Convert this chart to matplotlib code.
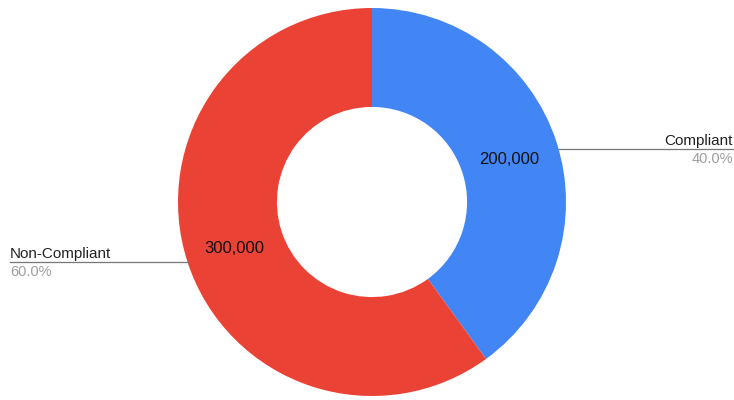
import numpy as np
import matplotlib
matplotlib.use("Agg")
import matplotlib.pyplot as plt

plt.rcParams["font.family"] = ["Liberation Sans", "DejaVu Sans"]

labels = ["Compliant", "Non-Compliant"]
values = [200000, 300000]
colors = ["#4285F4", "#EA4335"]

W, H = 734, 400
cx, cy, R = 372, 198, 194
hole = 0.49
# leader line heights (from bottom of canvas) for each slice
leader_y = [251, 138]

fig = plt.figure(figsize=(W / 100, H / 100), dpi=100)
ax = fig.add_axes([0, 0, 1, 1])

wedges, _ = ax.pie(values, colors=colors, startangle=90, counterclock=False,
                   center=(cx, cy), radius=R,
                   wedgeprops=dict(width=R * (1 - hole), linewidth=0))
ax.set_xlim(0, W)
ax.set_ylim(0, H)
ax.set_aspect("equal")
ax.axis("off")

total = sum(values)
for w, lab, val, ly in zip(wedges, labels, values, leader_y):
    ang = np.deg2rad((w.theta1 + w.theta2) / 2)
    dx, dy = np.cos(ang), np.sin(ang)
    rm = R * (1 + hole) / 2
    ax.text(cx + rm * dx, cy + rm * dy - 2, f"{val:,}", ha="center", va="center",
            fontsize=12, color="#111111")
    # point on the outer rim at the leader height
    ex = cx + np.sign(dx) * np.sqrt(R ** 2 - (ly - cy) ** 2)
    if dx > 0:
        x_end, ha = W - 1, "right"
    else:
        x_end, ha = 10, "left"
    ax.plot([ex, x_end], [ly, ly], color="#777777", lw=0.9)
    ax.text(x_end, ly + 4, lab, ha=ha, va="baseline", fontsize=11, color="#222222")
    ax.text(x_end, ly - 3, f"{val / total:.1%}", ha=ha, va="top",
            fontsize=10.5, color="#9e9e9e")

fig.savefig("out.png", dpi=100)
